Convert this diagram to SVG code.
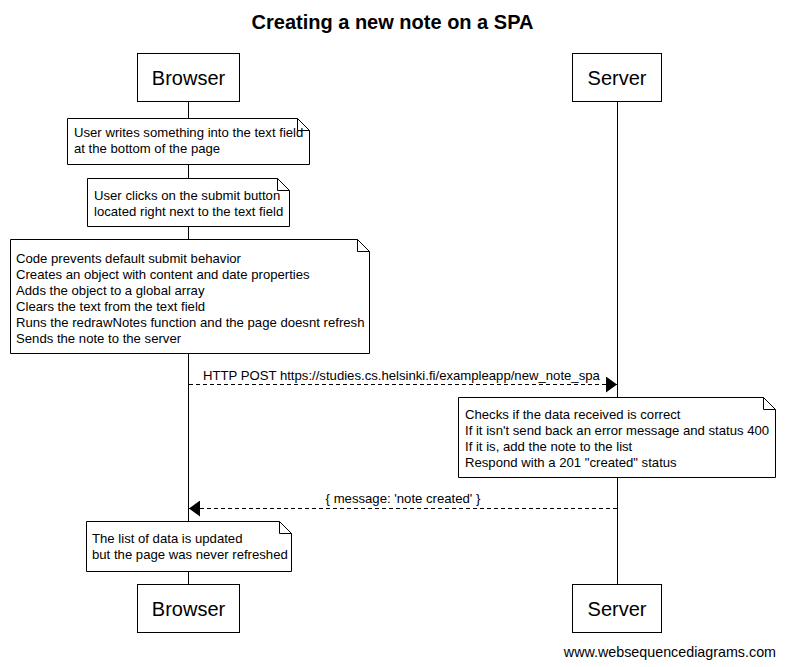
<svg xmlns="http://www.w3.org/2000/svg" width="785" height="667" viewBox="0 0 785 667">
<defs>
<style>
text{font-family:"Liberation Sans",Arial,sans-serif;fill:#000}
.t{font-size:13.15px}
.actor{font-size:20px;text-anchor:middle}
.box{fill:#fff;stroke:#000;stroke-width:1}
.note{fill:#fff;stroke:#000;stroke-width:1}
.life{stroke:#000;stroke-width:1}
.msg{stroke:#000;stroke-width:1;stroke-dasharray:4,3;fill:none}
</style>
<marker id="ah" markerWidth="12" markerHeight="16" refX="11" refY="8" orient="auto" markerUnits="userSpaceOnUse">
<path d="M0,0 L11,8 L0,16 Z" fill="#000"/>
</marker>
</defs>
<rect width="785" height="667" fill="#fff"/>
<text x="392.5" y="29" style="font-size:20px;font-weight:bold;text-anchor:middle">Creating a new note on a SPA</text>

<g id="lifelines">
<line class="life" x1="188.5" y1="102" x2="188.5" y2="584"/>
<line class="life" x1="617.5" y1="102" x2="617.5" y2="584"/>
</g>

<g id="browser-top"><rect class="box" x="137.5" y="53.5" width="102" height="48"/><text class="actor" x="188.5" y="85">Browser</text></g>
<g id="server-top"><rect class="box" x="572.5" y="53.5" width="89" height="48"/><text class="actor" x="617" y="85">Server</text></g>
<g id="browser-bottom"><rect class="box" x="137.5" y="584.5" width="102" height="48"/><text class="actor" x="188.5" y="616">Browser</text></g>
<g id="server-bottom"><rect class="box" x="572.5" y="584.5" width="89" height="48"/><text class="actor" x="617" y="616">Server</text></g>

<g id="note1">
<path class="note" d="M67.5,118.5 H297.5 L309.5,130.5 V164.5 H67.5 Z M297.5,118.5 V130.5 H309.5"/>
<text class="t" x="74" y="137">User writes something into the text field</text>
<text class="t" x="74" y="153">at the bottom of the page</text>
</g>
<g id="note2">
<path class="note" d="M87.5,178.5 H277.5 L289.5,190.5 V226.5 H87.5 Z M277.5,178.5 V190.5 H289.5"/>
<text class="t" x="94" y="200">User clicks on the submit button</text>
<text class="t" x="94" y="216">located right next to the text field</text>
</g>
<g id="note3">
<path class="note" d="M10.5,239.5 H357.5 L369.5,251.5 V353.5 H10.5 Z M357.5,239.5 V251.5 H369.5"/>
<text class="t" x="16" y="263">Code prevents default submit behavior</text>
<text class="t" x="16" y="279">Creates an object with content and date properties</text>
<text class="t" x="16" y="295">Adds the object to a global array</text>
<text class="t" x="16" y="311">Clears the text from the text field</text>
<text class="t" x="16" y="327">Runs the redrawNotes function and the page doesnt refresh</text>
<text class="t" x="16" y="343">Sends the note to the server</text>
</g>
<g id="note4">
<path class="note" d="M458.5,397.5 H763.5 L775.5,409.5 V477.5 H458.5 Z M763.5,397.5 V409.5 H775.5"/>
<text class="t" x="465" y="419">Checks if the data received is correct</text>
<text class="t" x="465" y="435">If it isn't send back an error message and status 400</text>
<text class="t" x="465" y="451">If it is, add the note to the list</text>
<text class="t" x="465" y="467">Respond with a 201 "created" status</text>
</g>
<g id="note5">
<path class="note" d="M86.5,521.5 H279.5 L291.5,533.5 V571.5 H86.5 Z M279.5,521.5 V533.5 H291.5"/>
<text class="t" x="92" y="543">The list of data is updated</text>
<text class="t" x="92" y="559">but the page was never refreshed</text>
</g>

<g id="connectors">
<line class="msg" x1="189" y1="384.5" x2="617" y2="384.5" marker-end="url(#ah)"/>
<text class="t" x="203" y="380">HTTP POST https://studies.cs.helsinki.fi/exampleapp/new_note_spa</text>
<line class="msg" x1="617" y1="508.5" x2="189" y2="508.5" marker-end="url(#ah)"/>
<text class="t" x="403" y="503" text-anchor="middle">{ message: 'note created' }</text>
</g>

<text x="776" y="657" style="font-size:14.3px;text-anchor:end">www.websequencediagrams.com</text>
</svg>
